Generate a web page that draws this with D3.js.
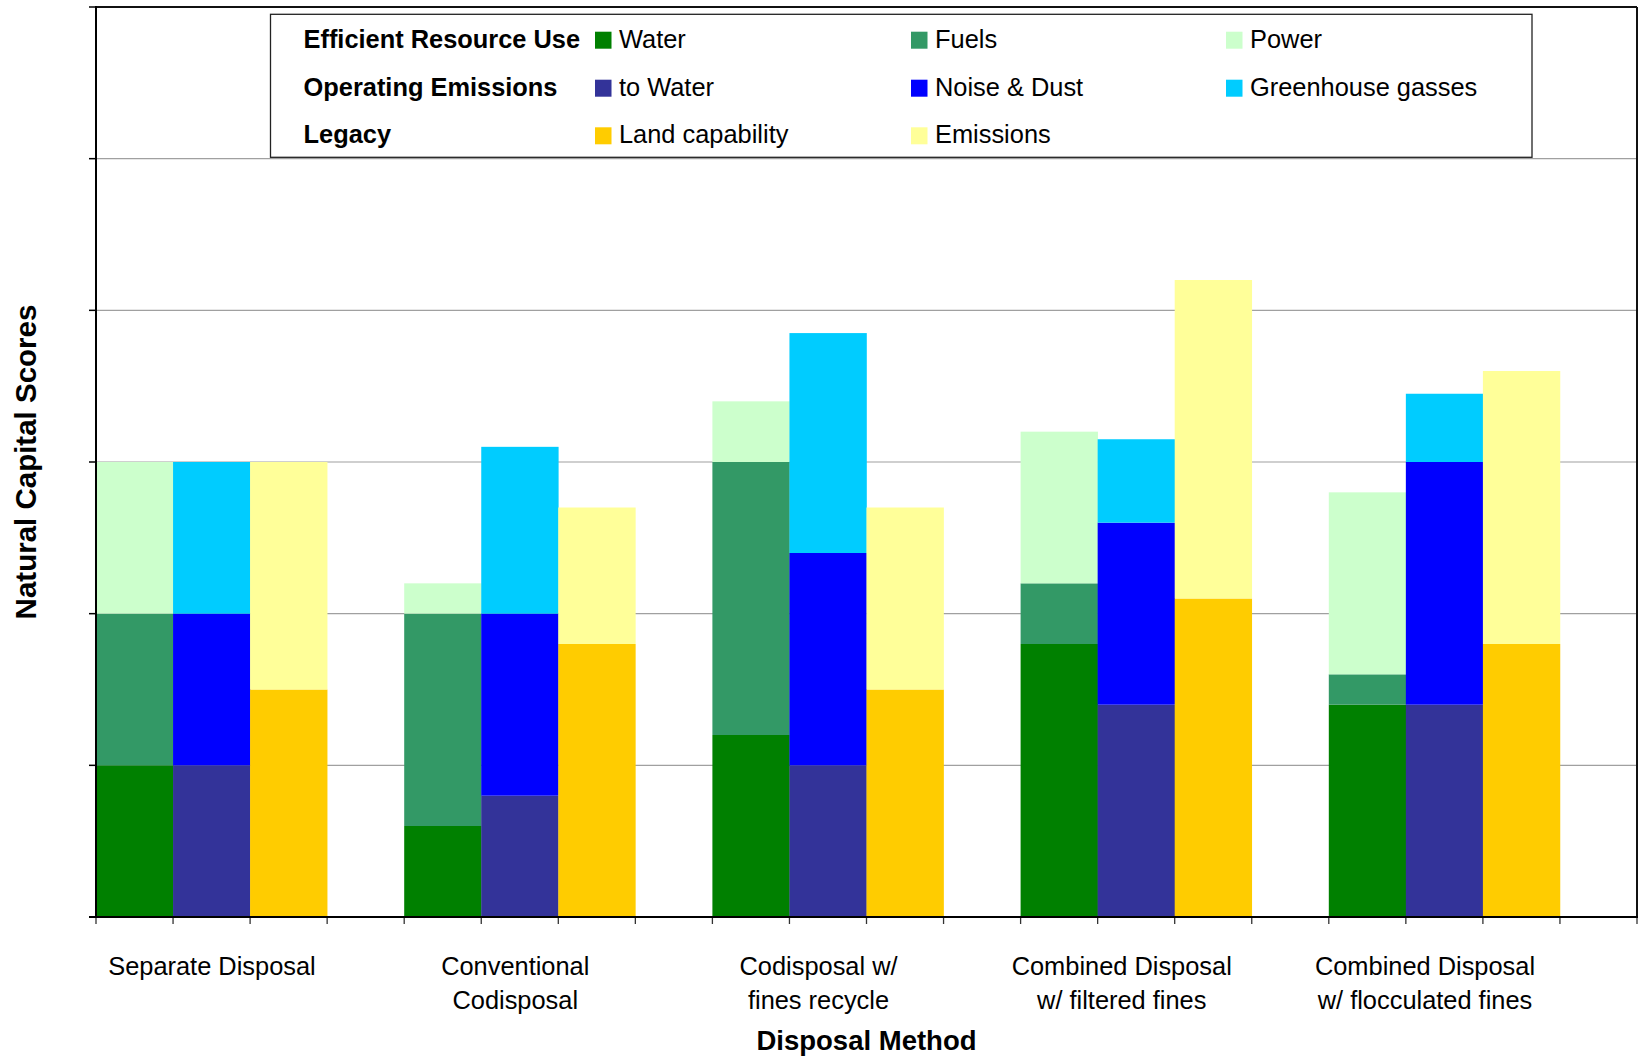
<!DOCTYPE html>
<html>
<head>
<meta charset="utf-8">
<script src="https://cdn.jsdelivr.net/npm/d3@7"></script>
<style>
  html, body { margin: 0; padding: 0; background: #fff; }
  svg { display: block; font-family: "Liberation Sans", Arial, Helvetica, sans-serif; }
</style>
</head>
<body>
<svg id="chart" width="1640" height="1057"></svg>
<script>
// ---------------- data ----------------
const categories = [
  "Separate Disposal",
  "Conventional Codisposal",
  "Codisposal w/ fines recycle",
  "Combined Disposal w/ filtered fines",
  "Combined Disposal w/ flocculated fines"
];
const categoryLines = [
  ["Separate Disposal"],
  ["Conventional", "Codisposal"],
  ["Codisposal w/", "fines recycle"],
  ["Combined Disposal", "w/ filtered fines"],
  ["Combined Disposal", "w/ flocculated fines"]
];
const stackGroups = ["Efficient Resource Use", "Operating Emissions", "Legacy"];

// Efficient Resource Use
const water      = [1.0, 0.6, 1.2, 1.8, 1.4];
const fuels      = [1.0, 1.4, 1.8, 0.4, 0.2];
const power      = [1.0, 0.2, 0.4, 1.0, 1.2];
// Operating Emissions
const toWater    = [1.0, 0.8, 1.0, 1.4, 1.4];
const noiseDust  = [1.0, 1.2, 1.4, 1.2, 1.6];
const greenhouse = [1.0, 1.1, 1.45, 0.55, 0.45];
// Legacy
const landCapability = [1.5, 1.8, 1.5, 2.1, 1.8];
const emissions      = [1.5, 0.9, 1.2, 2.1, 1.8];

const yTicks = [0, 1, 2, 3, 4, 5, 6];

// series definitions (built from the arrays above)
const seriesByGroup = [
  [ {name: "Water", values: water, color: "#008000"},
    {name: "Fuels", values: fuels, color: "#339966"},
    {name: "Power", values: power, color: "#CCFFCC"} ],
  [ {name: "to Water", values: toWater, color: "#333399"},
    {name: "Noise & Dust", values: noiseDust, color: "#0000FF"},
    {name: "Greenhouse gasses", values: greenhouse, color: "#00CCFF"} ],
  [ {name: "Land capability", values: landCapability, color: "#FFCC00"},
    {name: "Emissions", values: emissions, color: "#FFFF99"} ]
];

// ---------------- layout ----------------
const svg = d3.select("#chart");
const plot = {left: 96, right: 1637, top: 7, bottom: 917};
const FS = 25.4;

const y = d3.scaleLinear().domain([0, 6]).range([plot.bottom, plot.top]);
const x = d3.scaleBand().domain(categories).range([plot.left, plot.right]).padding(0);
const slot = d3.scaleBand().domain([0, 1, 2, 3]).range([0, x.bandwidth()]).padding(0);
const labelX = d3.scalePoint().domain(categories).range([212, 1425]);

// gridlines
svg.append("g").selectAll("line").data(yTicks.slice(1)).join("line")
  .attr("x1", plot.left).attr("x2", plot.right)
  .attr("y1", d => y(d)).attr("y2", d => y(d))
  .attr("stroke", "#a0a0a0").attr("stroke-width", 1.2);

// bars
const barsG = svg.append("g");
seriesByGroup.forEach((group, gi) => {
  const rows = categories.map((c, ci) => {
    const r = {cat: c};
    group.forEach(s => r[s.name] = s.values[ci]);
    return r;
  });
  const stacked = d3.stack().keys(group.map(s => s.name))(rows);
  stacked.forEach((layer, li) => {
    barsG.append("g").attr("fill", group[li].color)
      .selectAll("rect").data(layer).join("rect")
      .attr("x", d => x(d.data.cat) + slot(gi))
      .attr("width", slot.bandwidth() + 0.3)
      .attr("y", d => y(d[1]))
      .attr("height", d => y(d[0]) - y(d[1]));
  });
});

// y axis ticks (outward, no labels)
svg.append("g").selectAll("line").data(yTicks).join("line")
  .attr("x1", plot.left - 7).attr("x2", plot.left)
  .attr("y1", d => y(d)).attr("y2", d => y(d))
  .attr("stroke", "#000").attr("stroke-width", 1.5);

// x axis ticks at every slot boundary
const xTickPos = [];
categories.forEach(c => slot.domain().forEach(i => xTickPos.push(x(c) + slot(i))));
xTickPos.push(plot.right);
svg.append("g").selectAll("line").data(xTickPos).join("line")
  .attr("x1", d => d).attr("x2", d => d)
  .attr("y1", plot.bottom).attr("y2", plot.bottom + 7)
  .attr("stroke", "#333").attr("stroke-width", 1.3);

// plot border + axes
svg.append("line").attr("x1", plot.left).attr("x2", plot.right).attr("y1", plot.top).attr("y2", plot.top)
  .attr("stroke", "#111").attr("stroke-width", 2);
svg.append("line").attr("x1", plot.right).attr("x2", plot.right).attr("y1", plot.top).attr("y2", plot.bottom)
  .attr("stroke", "#111").attr("stroke-width", 2);
svg.append("line").attr("x1", plot.left).attr("x2", plot.left).attr("y1", plot.top - 1).attr("y2", plot.bottom + 1)
  .attr("stroke", "#000").attr("stroke-width", 2);
svg.append("line").attr("x1", plot.left - 7).attr("x2", plot.right + 1).attr("y1", plot.bottom).attr("y2", plot.bottom)
  .attr("stroke", "#000").attr("stroke-width", 2.2);

// category labels
const catG = svg.append("g").attr("font-size", FS).attr("fill", "#000").attr("text-anchor", "middle");
categories.forEach((c, ci) => {
  categoryLines[ci].forEach((line, li) => {
    catG.append("text").attr("x", labelX(c)).attr("y", 975 + li * 33.5).text(line);
  });
});

// axis titles
svg.append("text").attr("x", (plot.left + plot.right) / 2).attr("y", 1049.5)
  .attr("text-anchor", "middle").attr("font-weight", "bold").attr("font-size", 27.5)
  .text("Disposal Method");
svg.append("text")
  .attr("transform", `translate(35.5, ${(plot.top + plot.bottom) / 2}) rotate(-90)`)
  .attr("text-anchor", "middle").attr("font-weight", "bold").attr("font-size", 29.5)
  .text("Natural Capital Scores");

// legend
const legend = svg.append("g");
legend.append("rect").attr("x", 270.5).attr("y", 14.3).attr("width", 1532 - 270.5).attr("height", 157.3 - 14.3)
  .attr("fill", "#fff").attr("stroke", "#222").attr("stroke-width", 1.3);
const rowBase = [47.7, 95.7, 143.3];
const colSwatch = [595, 911, 1226];
stackGroups.forEach((g, gi) => {
  legend.append("text").attr("x", 303.5).attr("y", rowBase[gi])
    .attr("font-weight", "bold").attr("font-size", FS).text(g);
  seriesByGroup[gi].forEach((s, si) => {
    legend.append("rect").attr("x", colSwatch[si]).attr("y", rowBase[gi] - 16)
      .attr("width", 16.5).attr("height", 17).attr("fill", s.color);
    legend.append("text").attr("x", colSwatch[si] + 24).attr("y", rowBase[gi])
      .attr("font-size", FS).text(s.name);
  });
});
</script>
</body>
</html>
